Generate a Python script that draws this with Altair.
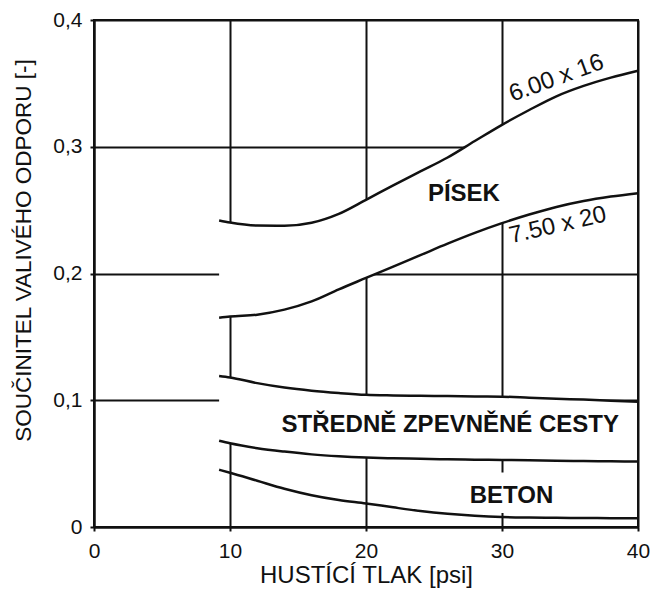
import altair as alt
import pandas as pd

# ---- data ----
pressure = [9.2, 10, 12, 14, 16, 18, 20, 22, 24, 26, 28, 30, 32, 34, 36, 38, 40]
sand_600x16 = [0.2418, 0.2402, 0.2378, 0.2376, 0.2400, 0.2470, 0.2581, 0.2695, 0.2805, 0.2915,
               0.3045, 0.3173, 0.3290, 0.3398, 0.3480, 0.3545, 0.3600]
sand_750x20 = [0.1650, 0.1660, 0.1675, 0.1715, 0.1780, 0.1875, 0.1965, 0.2055, 0.2145, 0.2235,
               0.2320, 0.2397, 0.2465, 0.2525, 0.2572, 0.2607, 0.2634]
road_upper = [0.1192, 0.1180, 0.1135, 0.1100, 0.1075, 0.1057, 0.1043, 0.1038, 0.1035, 0.1033,
              0.1030, 0.1028, 0.1020, 0.1012, 0.1005, 0.0997, 0.0989]
road_lower = [0.0680, 0.0660, 0.0622, 0.0595, 0.0573, 0.0558, 0.0548, 0.0542, 0.0538, 0.0534,
              0.0531, 0.0529, 0.0526, 0.0523, 0.0520, 0.0518, 0.0516]
concrete_lower = [0.0452, 0.0428, 0.0365, 0.0302, 0.0251, 0.0213, 0.0186, 0.0155, 0.0126, 0.0104,
                  0.0088, 0.0078, 0.0074, 0.0072, 0.0071, 0.0070, 0.0069]

x_ticks = [0, 10, 20, 30, 40]
y_ticks = [0, 0.1, 0.2, 0.3, 0.4]

label_text = ["6.00 x 16", "7.50 x 20", "PÍSEK", "STŘEDNĚ ZPEVNĚNÉ CESTY", "BETON"]
label_x = [34.0, 34.1, 27.2, 26.2, 30.7]
label_y = [0.354, 0.238, 0.263, 0.0805, 0.0245]
label_angle = [340, 347, 0, 0, 0]
label_weight = ["normal", "normal", "bold", "bold", "bold"]
label_size = [24, 24, 24, 24, 24]

# ---- tables ----
curves = {
    "6.00 x 16": sand_600x16,
    "7.50 x 20": sand_750x20,
    "road_upper": road_upper,
    "road_lower": road_lower,
    "concrete_lower": concrete_lower,
}
lines_df = pd.DataFrame(
    [{"curve": k, "x": x, "y": y} for k, vals in curves.items() for x, y in zip(pressure, vals)]
)
bands_df = pd.DataFrame(
    [{"band": "sand", "x": x, "lo": lo, "hi": hi} for x, lo, hi in zip(pressure, sand_750x20, sand_600x16)]
    + [{"band": "road", "x": x, "lo": lo, "hi": hi} for x, lo, hi in zip(pressure, road_lower, road_upper)]
)
labels_df = pd.DataFrame({"text": label_text, "x": label_x, "y": label_y,
                          "angle": label_angle, "weight": label_weight, "size": label_size})
beton = labels_df[labels_df["text"] == "BETON"].copy()
beton["x1"] = beton["x"] - 2.8
beton["x2"] = beton["x"] + 2.8
beton["y1"] = beton["y"] - 0.0135
beton["y2"] = beton["y"] + 0.0185

FONT = "Liberation Sans"
INK = "#111111"

xscale = alt.Scale(domain=[0, 40], nice=False, zero=False)
yscale = alt.Scale(domain=[0, 0.4], nice=False)

x_axis = alt.Axis(values=x_ticks, grid=True, gridColor=INK, gridWidth=2, gridOpacity=1,
                  domainColor=INK, domainWidth=2, tickColor=INK, tickWidth=2, tickSize=4,
                  labelFont=FONT, labelFontSize=21, labelColor=INK, labelPadding=9,
                  labelFlush=False,
                  title="HUSTÍCÍ TLAK [psi]", titleFont=FONT, titleFontSize=24,
                  titleFontWeight="normal", titleColor=INK, titlePadding=2)
y_axis = alt.Axis(values=y_ticks, grid=True, gridColor=INK, gridWidth=2, gridOpacity=1,
                  domainColor=INK, domainWidth=2, tickColor=INK, tickWidth=2, tickSize=4,
                  labelFont=FONT, labelFontSize=21, labelColor=INK, labelPadding=8,
                  labelFlush=False,
                  labelExpr="datum.value == 0 ? '0' : replace(format(datum.value, '.1f'), '.', ',')",
                  title="SOUČINITEL VALIVÉHO ODPORU [-]", titleFont=FONT, titleFontSize=22.5,
                  titleFontWeight="normal", titleColor=INK, titlePadding=17, titleY=230)

base = alt.Chart(lines_df).mark_line(opacity=0).encode(
    x=alt.X("x:Q", scale=xscale, axis=x_axis),
    y=alt.Y("y:Q", scale=yscale, axis=y_axis),
)

bands = alt.Chart(bands_df).mark_area(color="white", opacity=1, interpolate="monotone").encode(
    x="x:Q", y="lo:Q", y2="hi:Q", detail="band:N"
)

beton_bg = alt.Chart(beton).mark_rect(color="white", opacity=1).encode(
    x="x1:Q", x2="x2:Q", y="y1:Q", y2="y2:Q"
)

lines = alt.Chart(lines_df).mark_line(color=INK, strokeWidth=2.5, interpolate="monotone").encode(
    x="x:Q", y="y:Q", detail="curve:N"
)

text_layers = []
for _, r in labels_df.iterrows():
    text_layers.append(
        alt.Chart(labels_df[labels_df["text"] == r["text"]]).mark_text(
            font=FONT, fontSize=float(r["size"]), fontWeight=r["weight"], angle=float(r["angle"]),
            color=INK, align="center", baseline="middle"
        ).encode(x="x:Q", y="y:Q", text="text:N")
    )

right_edge = alt.Chart(pd.DataFrame({"v": [x_ticks[-1]]})).mark_rule(color=INK, strokeWidth=2).encode(
    x="v:Q"
)

chart = alt.layer(base, bands, beton_bg, lines, *text_layers, right_edge).properties(
    width=544, height=507,
    autosize=alt.AutoSizeParams(type="none"),
    padding={"left": 94, "top": 20, "right": 13, "bottom": 70},
    background="white",
).configure_view(stroke=INK, strokeWidth=2)

chart.save("out.html", embed_options={"renderer": "svg", "actions": False})
